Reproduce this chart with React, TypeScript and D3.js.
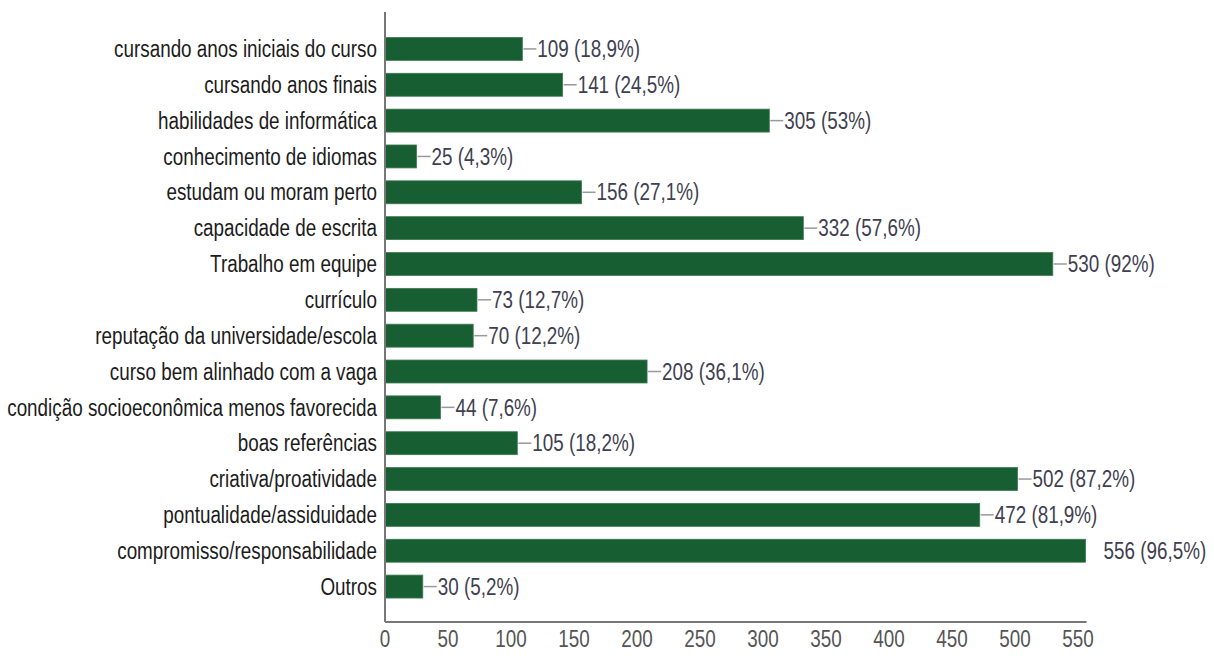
import React from "react";
import { scaleLinear, scaleBand } from "d3";

const categories = [
  "cursando anos iniciais do curso",
  "cursando anos finais",
  "habilidades de informática",
  "conhecimento de idiomas",
  "estudam ou moram perto",
  "capacidade de escrita",
  "Trabalho em equipe",
  "currículo",
  "reputação da universidade/escola",
  "curso bem alinhado com a vaga",
  "condição socioeconômica menos favorecida",
  "boas referências",
  "criativa/proatividade",
  "pontualidade/assiduidade",
  "compromisso/responsabilidade",
  "Outros",
];
const counts = [109, 141, 305, 25, 156, 332, 530, 73, 70, 208, 44, 105, 502, 472, 556, 30];
const percents = ["18,9", "24,5", "53", "4,3", "27,1", "57,6", "92", "12,7", "12,2", "36,1", "7,6", "18,2", "87,2", "81,9", "96,5", "5,2"];
const ticks = [0, 50, 100, 150, 200, 250, 300, 350, 400, 450, 500, 550];

const W = 1214;
const H = 665;
const x0 = 385;
const axisTop = 12;
const axisBottom = 622;
const font = "'Liberation Sans', Arial, sans-serif";
const squeeze = 0.82; // the original text is tall and narrow

// text squeezed horizontally around its anchor
function NarrowText({ x, y, anchor = "start", fill, size = 23, children }: any) {
  return (
    <text transform={`translate(${x},${y}) scale(${squeeze},1)`} textAnchor={anchor}
      dominantBaseline="central" fontFamily={font} fontSize={size} fill={fill}
      style={{ whiteSpace: "pre" }}>
      {children}
    </text>
  );
}

export default function App() {
  // scale
  const x = scaleLinear().domain([0, 550]).range([x0, x0 + 550 * 1.26]);
  const y = scaleBand()
    .domain(categories.map((d, i) => String(i)))
    .range([31, 604.5])
    .paddingInner(0.36)
    .paddingOuter(0.18);
  const maxVal = Math.max(...counts);

  return (
    <svg width={W} height={H} style={{ position: "absolute", left: 0, top: 0, background: "#fff" }}>
      {counts.map((v, i) => {
        const yc = y(String(i))! + y.bandwidth() / 2;
        const xe = x(v);
        return (
          <g key={i}>
            <NarrowText x={377} y={yc} anchor="end" fill="#1c1c1c">{categories[i]}</NarrowText>
            <rect x={x0} y={y(String(i))} width={xe - x0} height={y.bandwidth()}
              fill="#185e33" stroke="#3d7a52" strokeWidth={0.8} />
            {v !== maxVal && (
              <line x1={xe + 1} x2={xe + 14} y1={yc} y2={yc} stroke="#999" strokeWidth={1.5} />
            )}
            <NarrowText x={xe + (v === maxVal ? 18 : 15)} y={yc} fill="#404050">
              {`${v} (${percents[i]}%)`}
            </NarrowText>
          </g>
        );
      })}
      <line x1={x0} x2={x0} y1={axisTop} y2={axisBottom} stroke="#777" strokeWidth={2} />
      <line x1={x0} x2={x(556) + 1} y1={axisBottom} y2={axisBottom} stroke="#777" strokeWidth={2} />
      {ticks.map((t) => (
        <NarrowText key={t} x={x(t)} y={639} anchor="middle" fill="#555">{t}</NarrowText>
      ))}
    </svg>
  );
}
